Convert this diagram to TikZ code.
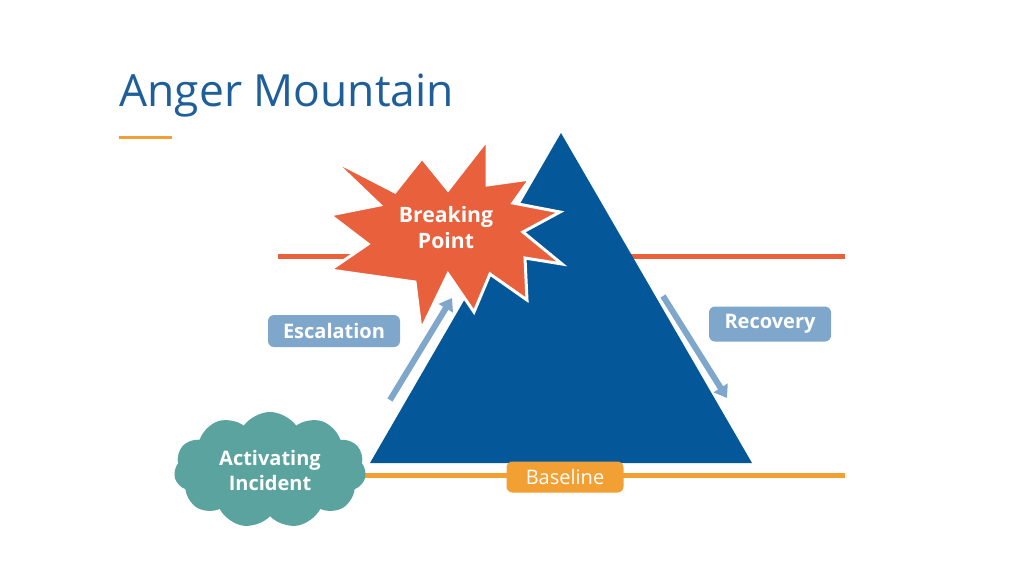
\documentclass[tikz,border=0pt]{standalone}
\usepackage{fontspec}
\setmainfont{Open Sans}
\usetikzlibrary{shapes.symbols,arrows.meta}
\definecolor{titleblue}{HTML}{1F5F99}
\definecolor{mountblue}{HTML}{04589A}
\definecolor{burstred}{HTML}{E8603C}
\definecolor{lineorange}{HTML}{F2A033}
\definecolor{boxblue}{HTML}{7FA7CB}
\definecolor{cloudteal}{HTML}{5BA39F}
\tikzset{
  label box/.style={rounded corners=3pt,inner sep=0pt,text=white,font=\bfseries\fontsize{10}{12}\selectfont},
  slope arrow/.style={boxblue,line width=3pt,-{Triangle[length=6pt,width=8pt]}}
}
\begin{document}
\begin{tikzpicture}[x=0.5pt,y=-0.5pt]
\useasboundingbox (0,0) rectangle (1024,575);
\node[anchor=base west,text=titleblue,font=\fontsize{22.2}{26}\selectfont,inner sep=0pt] (title) at (119,106) {Anger Mountain};
\draw[lineorange,line width=1.5pt] (119,137) -- (172,137);
% lines
\draw[burstred,line width=2.5pt] (278,256) -- (845,256);
\draw[lineorange,line width=2.5pt] (365,475) -- (845,475);
% mountain
\fill[mountblue] (561,133) -- (752,463) -- (370,463) -- cycle;
% breaking point
\filldraw[burstred,draw=white,line width=1.5pt,line join=miter]
  (333,160) -- (395,192) -- (422,158) -- (448,190) -- (487,140) -- (487,185)
  -- (530,179) -- (513,203) -- (560,212) -- (523,232) -- (562,264) -- (525,258)
  -- (527,300) -- (490,274) -- (474,312) -- (448,274) -- (421,330) -- (415,282)
  -- (330,270) -- (368,244) -- (330,215) -- (380,205) -- cycle;
\node[text=white,font=\bfseries\fontsize{10.6}{13}\selectfont,align=center] (bp) at (446,228) {Breaking\\Point};
% arrows
\coordinate (esc0) at (390,400);
\coordinate (esc1) at (452,298);
\coordinate (rec0) at (663,296);
\coordinate (rec1) at (727,398);
\draw[slope arrow] (esc0) -- (esc1);
\draw[slope arrow] (rec0) -- (rec1);
% labels
\node[label box,fill=boxblue,minimum width=66pt,minimum height=16pt] (esc) at (334,331) {Escalation};
\node[label box,fill=boxblue,minimum width=61pt,minimum height=17.5pt] (rec) at (770,324) {Recovery};
\node[label box,fill=lineorange,minimum width=58.5pt,minimum height=15.5pt,font=\fontsize{10}{12}\selectfont] (base) at (565,477) {Baseline};
\node[cloud,cloud puffs=11,cloud puff arc=110,aspect=1.6,fill=cloudteal,minimum width=96pt,minimum height=58pt,inner sep=0pt,
  text=white,font=\bfseries\fontsize{10}{12.5}\selectfont,align=center] (act) at (270,470) {Activating\\Incident};
\end{tikzpicture}
\end{document}
